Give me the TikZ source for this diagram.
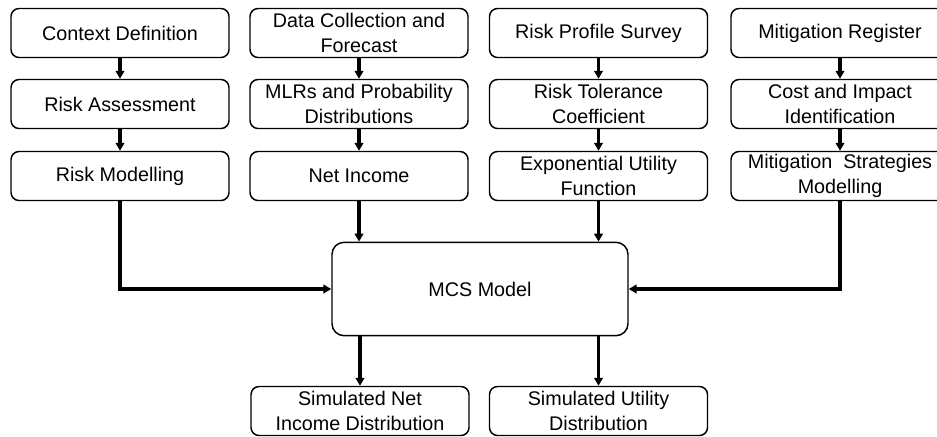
\documentclass[tikz,border=0pt]{standalone}
\usepackage{fontspec}
\setmainfont{Liberation Sans}
\usetikzlibrary{arrows.meta}

\tikzset{every picture/.style={line width=0.75pt}}
\tikzset{
  stepbox/.style={draw, rounded corners=6pt, line width=1.1pt, align=center,
    minimum width=163.5pt, minimum height=36.75pt, inner sep=1pt,
    font=\fontsize{14.8}{18.8}\selectfont},
  mcsbox/.style={draw, rounded corners=9pt, line width=1.1pt, align=center,
    minimum width=222pt, minimum height=70pt,
    font=\fontsize{14.8}{18.8}\selectfont},
  arr/.style={line width=2.3pt, -{Triangle[length=6pt,width=6.5pt]}}
}

\begin{document}
\begin{tikzpicture}[x=0.75pt,y=0.75pt,yscale=-1,xscale=1]
%set diagram frame at 937 x 436
\clip (0,0) rectangle (937,436);

%Column: Context
\node [stepbox] (cd) at (120,33) {Context Definition};
\node [stepbox] (ra) at (120,104) {Risk Assessment};
\node [stepbox] (rm) at (120,176) {Risk Modelling};
%Column: Data
\node [stepbox] (dc) at (359,33) {Data Collection and\\Forecast};
\node [stepbox] (mlr) at (359,104) {MLRs and Probability\\Distributions};
\node [stepbox] (ni) at (359,176) {Net Income};
%Column: Risk profile
\node [stepbox] (rps) at (598.5,33) {Risk Profile Survey};
\node [stepbox] (rtc) at (598.5,104) {Risk Tolerance\\Coefficient};
\node [stepbox] (euf) at (598.5,176) {Exponential Utility\\Function};
%Column: Mitigation
\node [stepbox] (mr) at (840,33) {Mitigation Register};
\node [stepbox] (cii) at (840,104) {Cost and Impact\\Identification};
\node [stepbox] (msm) at (840,176) {Mitigation\ \ Strategies\\Modelling};

%MCS model and outputs
\node [mcsbox] (mcs) at (480,289) {MCS Model};
\node [stepbox] (sni) at (360,411) {Simulated Net\\Income Distribution};
\node [stepbox] (sud) at (598.5,411) {Simulated Utility\\Distribution};

%Arrows within columns
\draw [arr] (cd) -- (ra);
\draw [arr] (ra) -- (rm);
\draw [arr] (dc) -- (mlr);
\draw [arr] (mlr) -- (ni);
\draw [arr] (rps) -- (rtc);
\draw [arr] (rtc) -- (euf);
\draw [arr] (mr) -- (cii);
\draw [arr] (cii) -- (msm);

%Arrows into MCS
\draw [arr] (rm.south) |- (mcs.west);
\draw [arr] (msm.south) |- (mcs.east);
\draw [arr] (ni.south) -- (ni.south |- mcs.north);
\draw [arr] (euf.south) -- (euf.south |- mcs.north);

%Arrows out of MCS
\draw [arr] (mcs.south -| sni.north) -- (sni.north);
\draw [arr] (mcs.south -| sud.north) -- (sud.north);

\end{tikzpicture}
\end{document}
